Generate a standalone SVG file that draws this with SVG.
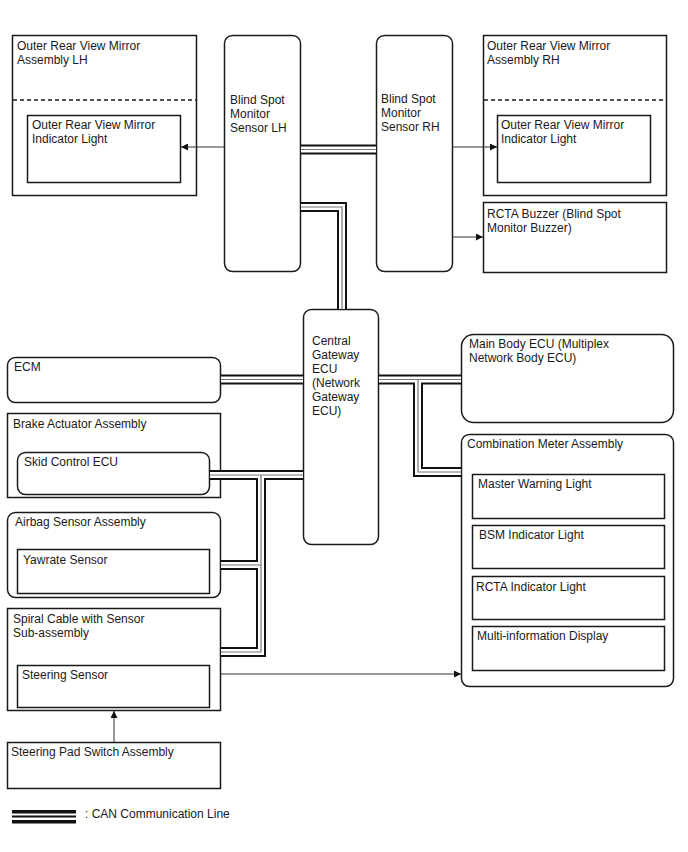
<svg xmlns="http://www.w3.org/2000/svg" width="688" height="852" viewBox="0 0 688 852">
<defs>
<style>
.b{fill:#fff;stroke:#1a1a1a;stroke-width:1.5}
.t{font-family:"Liberation Sans",Arial,sans-serif;font-size:12px;fill:#1a1a1a}
.d{stroke:#1a1a1a;stroke-width:1.5;stroke-dasharray:4 3;fill:none}
.a{stroke:#333;stroke-width:1;fill:none;marker-end:url(#ah)}
.c1{stroke:#111;stroke-width:10;fill:none}
.c2{stroke:#fff;stroke-width:6;fill:none}
.c3{stroke:#777;stroke-width:1.2;fill:none}
</style>
<marker id="ah" viewBox="0 0 10 10" refX="10" refY="5" markerWidth="9" markerHeight="7" markerUnits="userSpaceOnUse" orient="auto">
<path d="M0,0 L10,5 L0,10 z" fill="#111"/>
</marker>
</defs>

<g id="mirror-lh">
<rect class="b" x="12.5" y="35.5" width="184" height="160"/>
<line class="d" x1="13" y1="100" x2="196" y2="100"/>
<text class="t" x="17" y="50">Outer Rear View Mirror</text>
<text class="t" x="17" y="64">Assembly LH</text>
</g>
<g id="mirror-light-lh">
<rect class="b" x="27.5" y="115.5" width="153" height="67"/>
<text class="t" x="32" y="129">Outer Rear View Mirror</text>
<text class="t" x="32" y="143">Indicator Light</text>
</g>

<g id="bsm-lh">
<rect class="b" x="224.5" y="35.5" width="76" height="236" rx="8"/>
<text class="t" x="230" y="104">Blind Spot</text>
<text class="t" x="230" y="118">Monitor</text>
<text class="t" x="230" y="132">Sensor LH</text>
</g>

<g id="bsm-rh">
<rect class="b" x="376.5" y="35.5" width="76" height="236" rx="8"/>
<text class="t" x="381" y="103">Blind Spot</text>
<text class="t" x="381" y="117">Monitor</text>
<text class="t" x="381" y="131">Sensor RH</text>
</g>

<g id="mirror-rh">
<rect class="b" x="483.5" y="35.5" width="183" height="160"/>
<line class="d" x1="484" y1="100" x2="666" y2="100"/>
<text class="t" x="487" y="50">Outer Rear View Mirror</text>
<text class="t" x="487" y="64">Assembly RH</text>
</g>
<g id="mirror-light-rh">
<rect class="b" x="497.5" y="115.5" width="153" height="67"/>
<text class="t" x="501" y="129">Outer Rear View Mirror</text>
<text class="t" x="501" y="143">Indicator Light</text>
</g>

<g id="rcta-buzzer">
<rect class="b" x="483.5" y="202.5" width="183" height="70"/>
<text class="t" x="487" y="218">RCTA Buzzer (Blind Spot</text>
<text class="t" x="487" y="232">Monitor Buzzer)</text>
</g>

<g id="gateway">
<rect class="b" x="303.5" y="309.5" width="75" height="235" rx="8"/>
<text class="t" x="312" y="345">Central</text>
<text class="t" x="312" y="359">Gateway</text>
<text class="t" x="312" y="373">ECU</text>
<text class="t" x="312" y="387">(Network</text>
<text class="t" x="312" y="401">Gateway</text>
<text class="t" x="312" y="415">ECU)</text>
</g>

<g id="ecm">
<rect class="b" x="7.5" y="357.5" width="213" height="45" rx="8"/>
<text class="t" x="14" y="371">ECM</text>
</g>

<g id="brake-actuator">
<rect class="b" x="7.5" y="413.5" width="213" height="84"/>
<text class="t" x="13" y="428">Brake Actuator Assembly</text>
</g>
<g id="skid-control-ecu">
<rect class="b" x="17.5" y="452.5" width="192" height="42" rx="8"/>
<text class="t" x="24" y="466">Skid Control ECU</text>
</g>

<g id="airbag-sensor">
<rect class="b" x="7.5" y="512.5" width="213" height="85" rx="8"/>
<text class="t" x="15" y="526">Airbag Sensor Assembly</text>
</g>
<g id="yawrate-sensor">
<rect class="b" x="17.5" y="549.5" width="192" height="44"/>
<text class="t" x="23" y="564">Yawrate Sensor</text>
</g>

<g id="spiral-cable">
<rect class="b" x="7.5" y="608.5" width="213" height="102"/>
<text class="t" x="13" y="623">Spiral Cable with Sensor</text>
<text class="t" x="13" y="637">Sub-assembly</text>
</g>
<g id="steering-sensor">
<rect class="b" x="17.5" y="665.5" width="192" height="42"/>
<text class="t" x="22" y="679">Steering Sensor</text>
</g>

<g id="steering-pad-switch">
<rect class="b" x="7.5" y="742.5" width="213" height="46"/>
<text class="t" x="11" y="756">Steering Pad Switch Assembly</text>
</g>

<g id="main-body-ecu">
<rect class="b" x="461.5" y="334.5" width="212" height="88" rx="12"/>
<text class="t" x="469" y="348">Main Body ECU (Multiplex</text>
<text class="t" x="469" y="362">Network Body ECU)</text>
</g>

<g id="combination-meter">
<rect class="b" x="461.5" y="434.5" width="212" height="252" rx="8"/>
<text class="t" x="467" y="448">Combination Meter Assembly</text>
</g>
<g id="master-warning-light">
<rect class="b" x="472.5" y="474.5" width="192" height="44"/>
<text class="t" x="478" y="488">Master Warning Light</text>
</g>
<g id="bsm-indicator-light">
<rect class="b" x="472.5" y="525.5" width="192" height="43"/>
<text class="t" x="479" y="539">BSM Indicator Light</text>
</g>
<g id="rcta-indicator-light">
<rect class="b" x="472.5" y="576.5" width="192" height="43"/>
<text class="t" x="476" y="591">RCTA Indicator Light</text>
</g>
<g id="multi-information-display">
<rect class="b" x="472.5" y="626.5" width="192" height="44"/>
<text class="t" x="477" y="640">Multi-information Display</text>
</g>

<g id="connectors">
<g id="can">
<g class="c1">
<path d="M301,149.5 H376"/>
<path d="M301,207 H342 V309"/>
<path d="M221,379.5 H303"/>
<path d="M379,379.5 H461"/>
<path d="M418,379.5 V472 H461"/>
<path d="M303,475 H210"/>
<path d="M261,475 V652 H221"/>
<path d="M261,565 H221"/>
</g>
<g class="c2">
<path d="M301,149.5 H376"/>
<path d="M301,207 H342 V309"/>
<path d="M221,379.5 H303"/>
<path d="M379,379.5 H461"/>
<path d="M418,379.5 V472 H461"/>
<path d="M303,475 H210"/>
<path d="M261,475 V652 H221"/>
<path d="M261,565 H221"/>
</g>
<g class="c3">
<path d="M301,149.5 H376"/>
<path d="M301,207 H342 V309"/>
<path d="M221,379.5 H303"/>
<path d="M379,379.5 H461"/>
<path d="M418,379.5 V472 H461"/>
<path d="M303,475 H210"/>
<path d="M261,475 V652 H221"/>
<path d="M261,565 H221"/>
</g>
</g>
<path class="a" d="M224,147 H181"/>
<path class="a" d="M452,147 H497"/>
<path class="a" d="M452,237 H483"/>
<path class="a" d="M221,674 H461"/>
<path class="a" d="M114,742 V711"/>
</g>

<g id="legend">
<rect x="12" y="810" width="64" height="3.5" fill="#111"/>
<rect x="12" y="815.5" width="64" height="2" fill="#111"/>
<rect x="12" y="820" width="64" height="3.5" fill="#111"/>
<text class="t" x="85" y="818">: CAN Communication Line</text>
</g>
</svg>
